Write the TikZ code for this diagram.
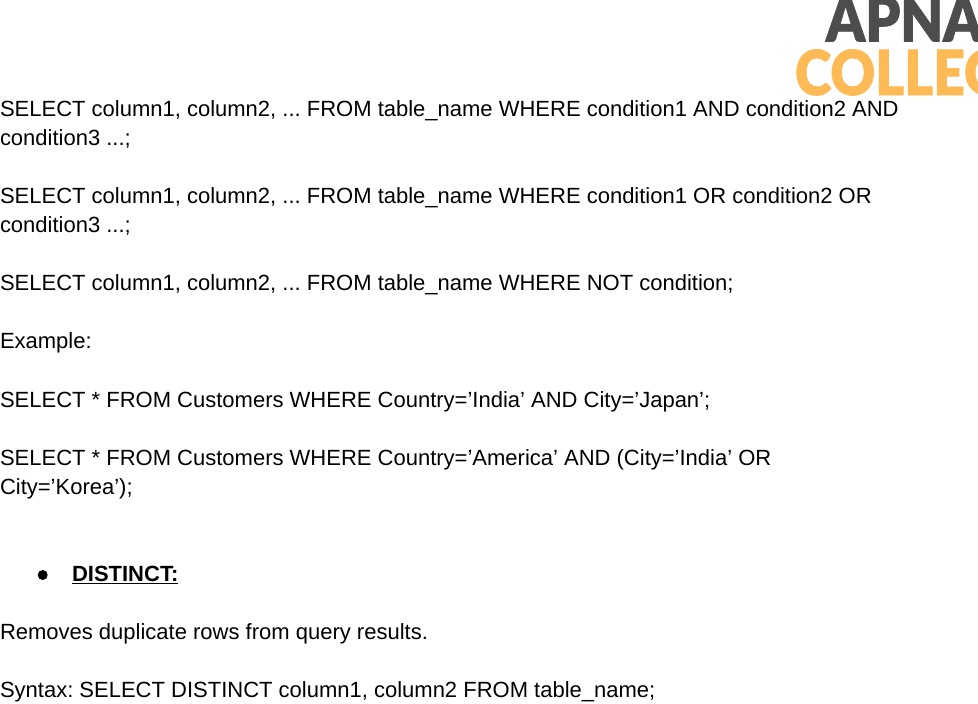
\documentclass[tikz,border=0pt]{standalone}
\usepackage{fontspec}
\setmainfont{Liberation Sans}
\newfontfamily\logofont{Lato}[UprightFont=* Black,FakeBold=1.2]
\tikzset{x=1pt,y=-1pt,
 line/.style={anchor=base west,inner sep=0pt,outer sep=0pt,font=\fontsize{22}{26}\selectfont\frenchspacing},
 logotext/.style={anchor=base west,inner sep=0pt,outer sep=0pt,xscale=.89,transform shape}}
\definecolor{logogray}{HTML}{4D4D4D}
\definecolor{logoorange}{HTML}{FDBA55}
\begin{document}
\begin{tikzpicture}
\useasboundingbox (0,0) rectangle (978,704);
\fill[white] (0,0) rectangle (978,704);
\begin{scope}
\clip (0,0) rectangle (978,704);
\node[logotext,text=logogray,font=\fontsize{62}{62}\logofont] (apna) at (826,41.5) {APNA};
\node[logotext,text=logoorange,font=\fontsize{62}{62}\logofont] (college) at (795,95) {COLLEGE};
\end{scope}
\node[line] (l1) at (0,116) {SELECT column1, column2, ... FROM table\_name WHERE condition1 AND condition2 AND};
\node[line] (l2) at (0,145) {condition3 ...;};
\node[line] (l3) at (0,203) {SELECT column1, column2, ... FROM table\_name WHERE condition1 OR condition2 OR};
\node[line] (l4) at (0,232) {condition3 ...;};
\node[line] (l5) at (0,290) {SELECT column1, column2, ... FROM table\_name WHERE NOT condition;};
\node[line] (l6) at (0,348) {Example:};
\node[line] (l7) at (0,407) {SELECT * FROM Customers WHERE Country=’India’ AND City=’Japan’;};
\node[line] (l8) at (0,465) {SELECT * FROM Customers WHERE Country=’America’ AND (City=’India’ OR};
\node[line] (l9) at (0,494) {City=’Korea’);};
\fill[black] (42.7,575) circle (5) coordinate (bullet);
\node[line,font=\fontsize{22}{26}\selectfont\bfseries] (h) at (72,581) {DISTINCT:};
\draw[line width=1.8] (h.base west) ++(0,2.5) -- ++(106,0);
\node[line] (l10) at (0,639) {Removes duplicate rows from query results.};
\node[line] (l11) at (0,697) {Syntax: SELECT DISTINCT column1, column2 FROM table\_name;};
\end{tikzpicture}
\end{document}
